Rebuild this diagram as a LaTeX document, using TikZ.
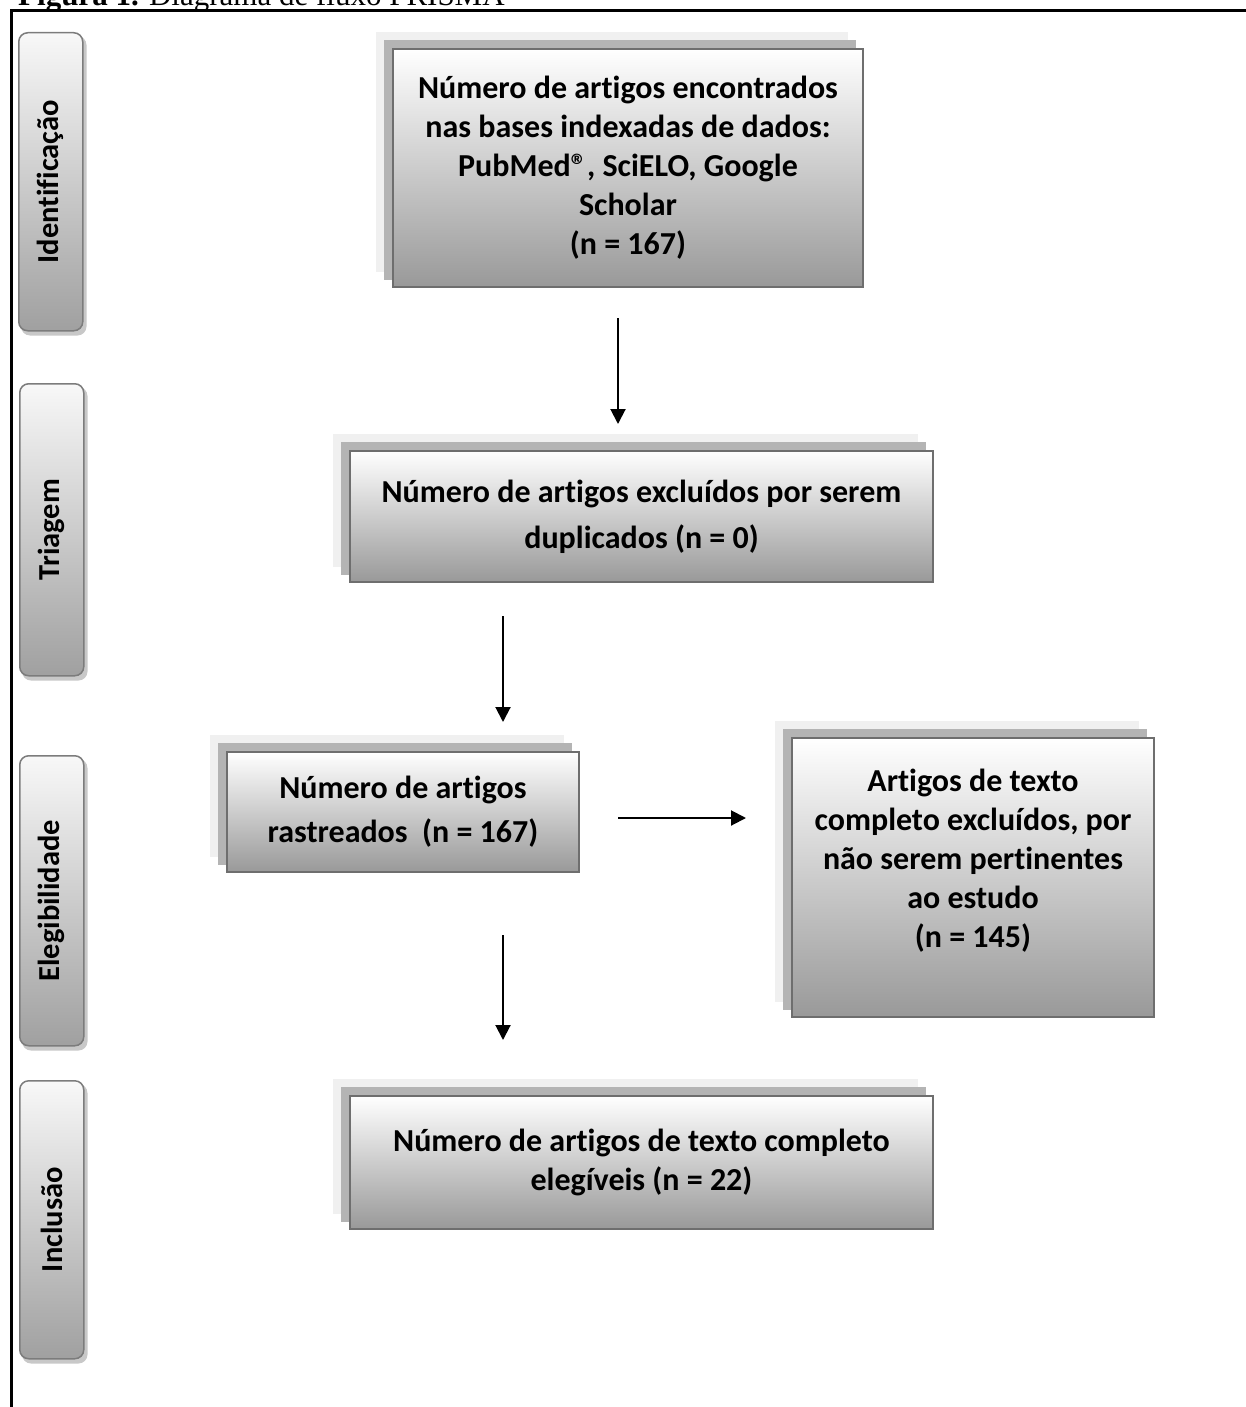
\documentclass[tikz,border=0pt]{standalone}
\usepackage{fontspec}
\setmainfont{Carlito}[Ligatures=NoCommon]
\newfontfamily\titlefont{Liberation Serif}
\usetikzlibrary{arrows.meta,backgrounds}

\definecolor{bxborder}{HTML}{6E6E6E}
\definecolor{shadowmid}{HTML}{B4B4B4}
\definecolor{shadowback}{HTML}{F0F0F0}
\definecolor{bxbottom}{HTML}{999999}
\definecolor{phborder}{HTML}{7C7C7C}
\definecolor{phtop}{HTML}{F8F8F8}
\definecolor{phbottom}{HTML}{A0A0A0}
\definecolor{phshadow}{HTML}{C8C8C8}

\newcommand{\stackshadow}[1]{%
  \fill[shadowback] ([shift={(-16,-16)}]#1.north west) rectangle ([shift={(-16,-16)}]#1.south east);
  \fill[shadowmid] ([shift={(-8,-8)}]#1.north west) rectangle ([shift={(-8,-8)}]#1.south east);
}
\newcommand{\phaseshadow}[1]{%
  \fill[phshadow, rounded corners=9pt] ([shift={(3,4)}]#1.north west) rectangle ([shift={(3,4)}]#1.south east);
}

\begin{document}
\begin{tikzpicture}[x=1pt,y=-1pt,
  flowbox/.style={draw=bxborder, line width=2pt, top color=white, bottom color=bxbottom,
    anchor=north west, inner sep=0pt, align=center},
  phasebox/.style={draw=phborder, line width=1.5pt, top color=phtop, bottom color=phbottom,
    rounded corners=9pt, anchor=north west, inner sep=0pt, minimum width=64pt,
    font=\bfseries\fontsize{30.5}{34}\selectfont},
  arr/.style={line width=2pt, -{Triangle[width=15pt,length=15pt]}}
]
\useasboundingbox (0,0) rectangle (1245,1407);

% title (cut at top) and frame
\node[anchor=base west, inner sep=0pt, font=\titlefont\fontsize{31}{31}\selectfont] (title) at (18,6)
  {\textbf{Figura 1.} Diagrama de fluxo PRISMA};
\draw[line width=3pt] (11,1430) -- (11,11) -- (1270,11);

% phase labels
\node[phasebox, minimum height=298pt] (ph1) at (18,32) {\rotatebox{90}{Identificação}};
\node[phasebox, minimum height=292pt] (ph2) at (19,383) {\rotatebox{90}{Triagem}};
\node[phasebox, minimum height=290pt] (ph3) at (19,755) {\rotatebox{90}{Elegibilidade}};
\node[phasebox, minimum height=278pt] (ph4) at (19,1080) {\rotatebox{90}{Inclusão}};

% flow boxes
\node[flowbox, minimum width=470pt, minimum height=238pt, font=\bfseries\fontsize{32}{39}\selectfont] (b1) at (392,48)
  {Número de artigos encontrados\\nas bases indexadas de dados:\\PubMed®, SciELO, Google\\Scholar\\(n = 167)};
\node[flowbox, minimum width=583pt, minimum height=131pt, font=\bfseries\fontsize{32}{46}\selectfont] (b2) at (349,450)
  {Número de artigos excluídos por serem\\duplicados (n = 0)};
\node[flowbox, minimum width=352pt, minimum height=120pt, font=\bfseries\fontsize{32}{44}\selectfont] (b3) at (226,751)
  {Número de artigos\\rastreados~~(n = 167)};
\node[flowbox, minimum width=362pt, minimum height=279pt, font=\bfseries\fontsize{32}{39}\selectfont] (b4) at (791,737)
  {Artigos de texto\\completo excluídos, por\\não serem pertinentes\\ao estudo\\(n = 145)\\\mbox{}};
\node[flowbox, minimum width=583pt, minimum height=133pt, font=\bfseries\fontsize{32}{39}\selectfont] (b5) at (349,1095)
  {Número de artigos de texto completo\\elegíveis (n = 22)};

\begin{scope}[on background layer]
  \stackshadow{b1}
  \stackshadow{b2}
  \stackshadow{b3}
  \stackshadow{b4}
  \stackshadow{b5}
  \phaseshadow{ph1}
  \phaseshadow{ph2}
  \phaseshadow{ph3}
  \phaseshadow{ph4}
\end{scope}

% connectors
\coordinate (a1s) at (618,318);
\coordinate (a1e) at (618,424);
\coordinate (a2s) at (503,616);
\coordinate (a2e) at (503,722);
\coordinate (a3s) at (618,818);
\coordinate (a3e) at (746,818);
\coordinate (a4s) at (503,935);
\coordinate (a4e) at (503,1040);
\draw[arr] (a1s) -- (a1e);
\draw[arr] (a2s) -- (a2e);
\draw[arr] (a3s) -- (a3e);
\draw[arr] (a4s) -- (a4e);
\end{tikzpicture}
\end{document}
